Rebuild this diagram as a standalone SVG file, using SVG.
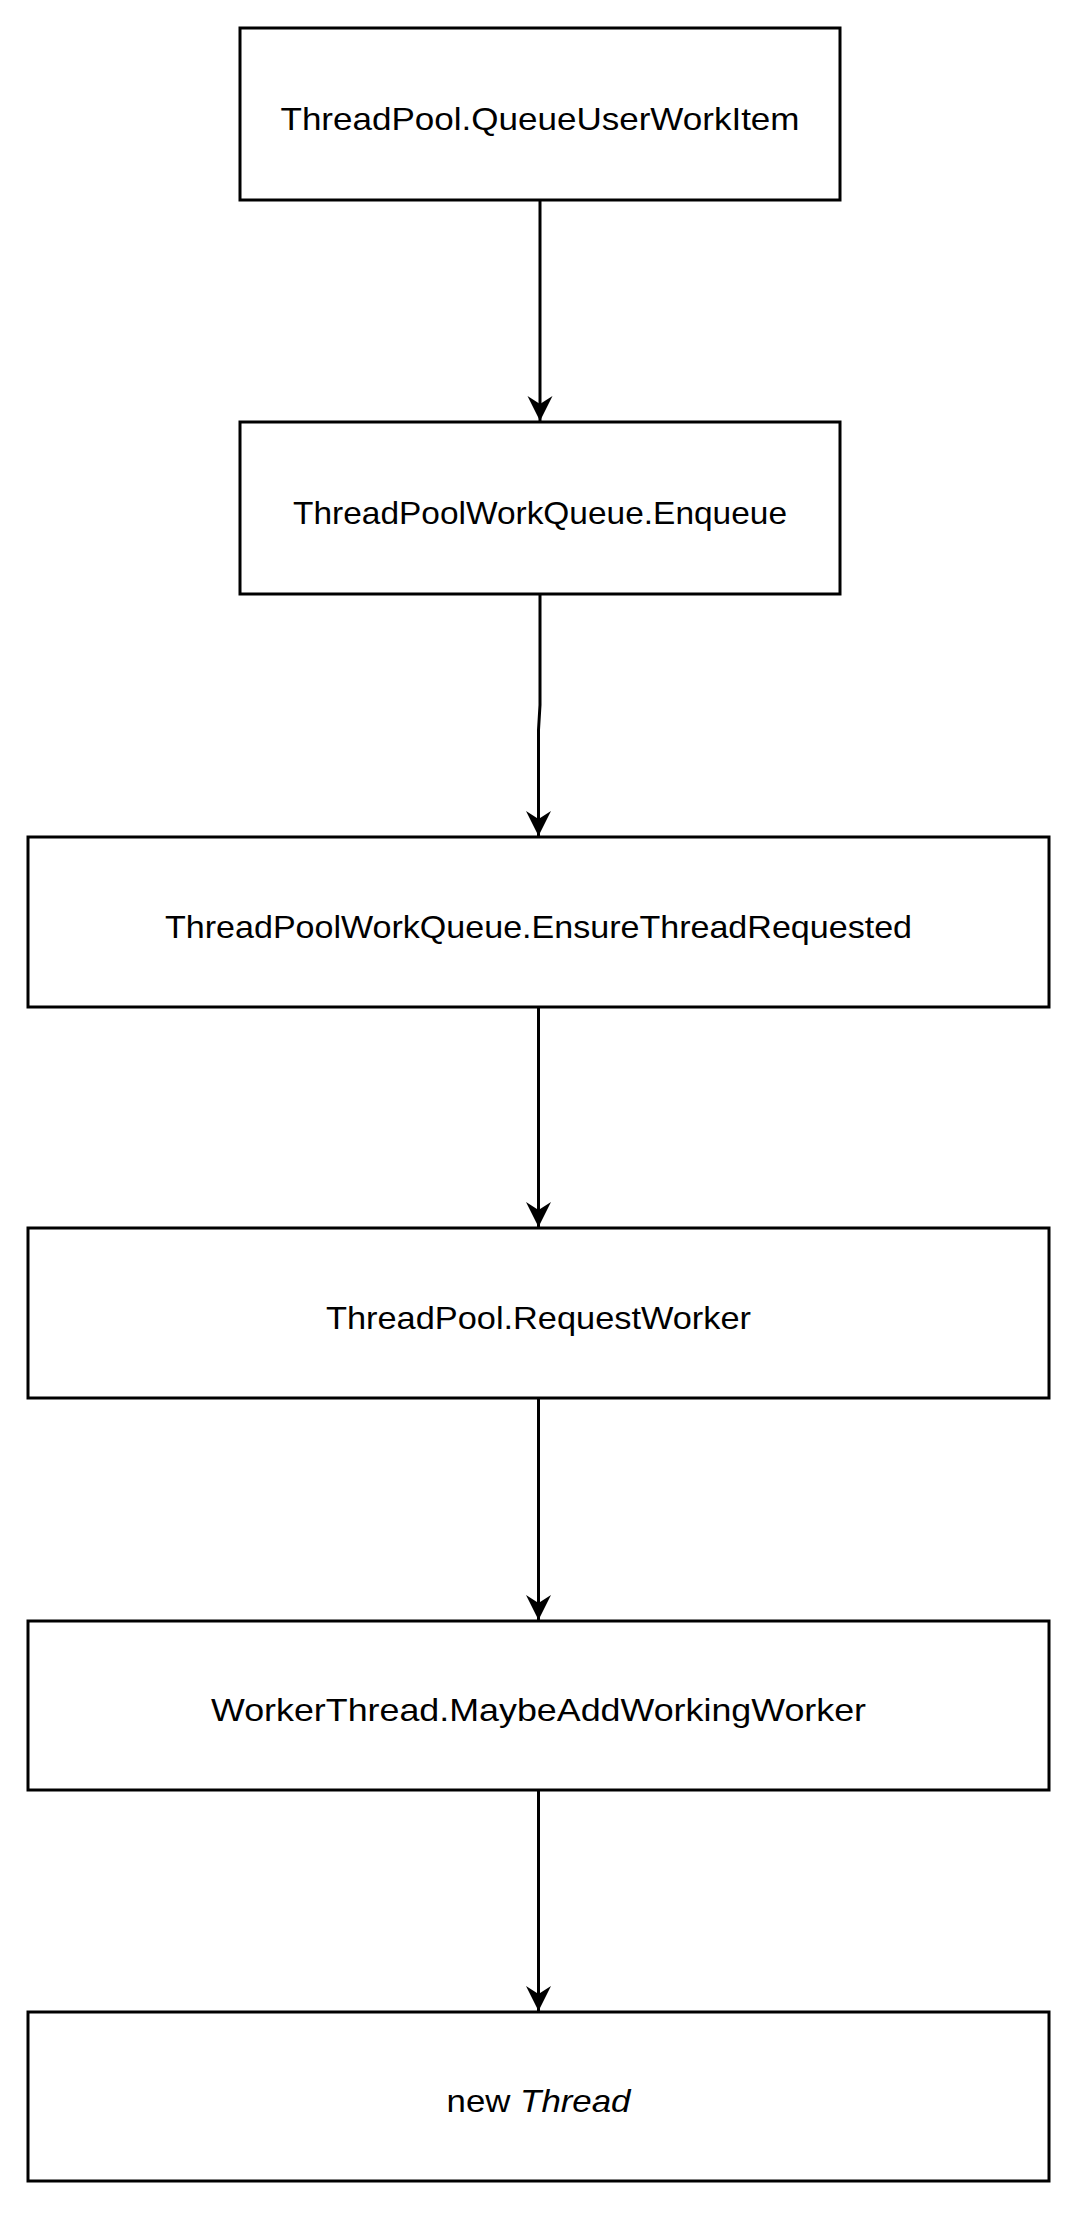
<svg xmlns="http://www.w3.org/2000/svg" width="1080" height="2213" viewBox="0 0 1080 2213">
<style>
.box{fill:#fff;stroke:#000;stroke-width:3}
.lbl{font-family:"Comic Sans MS","Liberation Sans",sans-serif;font-size:32px;fill:#000;text-anchor:middle}
.edge{fill:none;stroke:#000;stroke-width:3}
</style>
<defs>
<marker id="arr" viewBox="-27 -14 29 28" refX="0" refY="0" markerWidth="29" markerHeight="28" markerUnits="userSpaceOnUse" orient="auto">
<path d="M0,0 L-25,-12.5 L-17,0 L-25,12.5 Z" fill="#000"/>
</marker>
</defs>
<rect width="1080" height="2213" fill="#fff"/>
<g id="connectors">
<path class="edge" d="M540,200 L540,421" marker-end="url(#arr)"/>
<path class="edge" d="M540,594 L540,705 L538.5,730 L538.5,836" marker-end="url(#arr)"/>
<path class="edge" d="M538.5,1007 L538.5,1227" marker-end="url(#arr)"/>
<path class="edge" d="M538.5,1398 L538.5,1620" marker-end="url(#arr)"/>
<path class="edge" d="M538.5,1790 L538.5,2011" marker-end="url(#arr)"/>
</g>
<g id="n1"><rect class="box" x="240" y="28" width="600" height="172"/><text class="lbl" x="540" y="130" textLength="519" lengthAdjust="spacingAndGlyphs">ThreadPool.QueueUserWorkItem</text></g>
<g id="n2"><rect class="box" x="240" y="422" width="600" height="172"/><text class="lbl" x="540" y="524" textLength="494" lengthAdjust="spacingAndGlyphs">ThreadPoolWorkQueue.Enqueue</text></g>
<g id="n3"><rect class="box" x="28" y="837" width="1021" height="170"/><text class="lbl" x="538.5" y="938" textLength="747" lengthAdjust="spacingAndGlyphs">ThreadPoolWorkQueue.EnsureThreadRequested</text></g>
<g id="n4"><rect class="box" x="28" y="1228" width="1021" height="170"/><text class="lbl" x="538.5" y="1329" textLength="425" lengthAdjust="spacingAndGlyphs">ThreadPool.RequestWorker</text></g>
<g id="n5"><rect class="box" x="28" y="1621" width="1021" height="169"/><text class="lbl" x="538.5" y="1721" textLength="655" lengthAdjust="spacingAndGlyphs">WorkerThread.MaybeAddWorkingWorker</text></g>
<g id="n6"><rect class="box" x="28" y="2012" width="1021" height="169"/><text class="lbl" x="538.5" y="2112" textLength="184" lengthAdjust="spacingAndGlyphs">new <tspan font-style="italic">Thread</tspan></text></g>
</svg>
